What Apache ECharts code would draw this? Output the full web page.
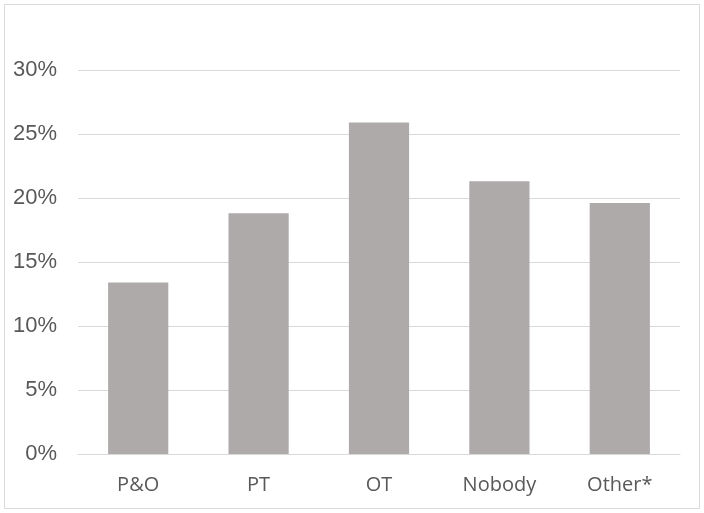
<!DOCTYPE html>
<html>
<head>
<meta charset="utf-8">
<script src="https://cdn.jsdelivr.net/npm/echarts@6/dist/echarts.min.js"></script>
<style>html,body{margin:0;padding:0;background:#fff;}#c{width:704px;height:513px;}</style>
</head>
<body>
<div id="c"></div>
<script>
var categories = ['P&O', 'PT', 'OT', 'Nobody', 'Other*'];
var values = [13.4, 18.8, 25.9, 21.3, 19.6];
var yTicks = [0, 5, 10, 15, 20, 25, 30];

var chart = echarts.init(document.getElementById('c'), null, {renderer: 'canvas'});
chart.setOption({
  animation: false,
  backgroundColor: '#fff',
  graphic: [{
    type: 'rect',
    shape: {x: 4.5, y: 4.5, width: 695, height: 504},
    style: {fill: 'none', stroke: '#D9D9D9', lineWidth: 1}
  }],
  grid: {left: 78, right: 24, top: 70, bottom: 59, containLabel: false},
  xAxis: {
    type: 'category',
    data: categories,
    axisLine: {show: true, lineStyle: {color: '#D9D9D9', width: 1}},
    axisTick: {show: false},
    axisLabel: {color: '#595959', fontSize: 20, fontFamily: 'Open Sans, sans-serif', margin: 21}
  },
  yAxis: {
    type: 'value',
    min: yTicks[0],
    max: yTicks[yTicks.length - 1],
    interval: 5,
    axisLine: {show: false},
    axisTick: {show: false},
    splitLine: {lineStyle: {color: '#D9D9D9', width: 1}},
    axisLabel: {color: '#595959', fontSize: 22, fontFamily: 'Liberation Sans, Arial, sans-serif', margin: 21, padding: [16, 0, 0, 0], formatter: '{value}%'}
  },
  series: [{
    type: 'bar',
    data: values,
    barWidth: '50%',
    itemStyle: {color: '#ADAAA9'}
  }]
});
</script>
</body>
</html>
